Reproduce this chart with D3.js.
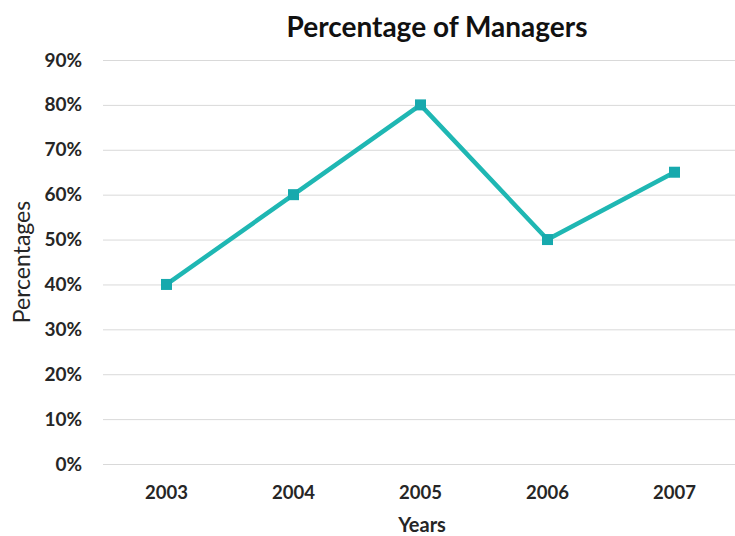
<!DOCTYPE html>
<html>
<head>
<meta charset="utf-8">
<script src="https://cdn.jsdelivr.net/npm/d3@7"></script>
<style>
  body { margin: 0; background: #fff; }
  svg { display: block; font-family: Lato, "Open Sans", sans-serif; }
</style>
</head>
<body>
<div id="chart"></div>
<script>
const years = ["2003", "2004", "2005", "2006", "2007"];
const managers = [40, 60, 80, 50, 65];
const yTicks = [0, 10, 20, 30, 40, 50, 60, 70, 80, 90];

const width = 735, height = 536;
const margin = {top: 60, right: -3, bottom: 72, left: 103};
const innerwidth = width - margin.left - margin.right;
const innerheight = height - margin.top - margin.bottom;

const svg = d3.select("#chart").append("svg")
    .attr("width", width)
    .attr("height", height);

const g = svg.append("g")
    .attr("transform", "translate(" + margin.left + "," + margin.top + ")");

const xScale = d3.scaleBand()
    .domain(years)
    .range([0, innerwidth]);

const yScale = d3.scaleLinear()
    .domain([0, 90])
    .range([innerheight, 0]);

// gridlines + y labels
const yAxis = g.append("g")
    .call(d3.axisLeft(yScale)
      .tickValues(yTicks)
      .tickSize(-innerwidth)
      .tickPadding(21)
      .tickFormat(d => d + "%"));
yAxis.select(".domain").remove();
yAxis.selectAll(".tick line").attr("stroke", "#d9d9d9").attr("stroke-width", 1);
yAxis.selectAll(".tick text")
    .attr("fill", "#262626")
    .attr("font-size", 19)
    .attr("font-weight", "bold")
    .attr("font-family", "Lato, sans-serif");

// x labels
const xAxis = g.append("g")
    .attr("transform", "translate(0," + innerheight + ")")
    .call(d3.axisBottom(xScale).tickSize(0).tickPadding(22));
xAxis.select(".domain").remove();
xAxis.selectAll(".tick text")
    .attr("fill", "#262626")
    .attr("font-size", 18.5)
    .attr("font-weight", "bold")
    .attr("font-family", "Lato, sans-serif");

const pts = years.map((y, i) => [xScale(y) + xScale.bandwidth() / 2, yScale(managers[i])]);

g.append("path")
    .datum(pts)
    .attr("fill", "none")
    .attr("stroke", "#1fb7b3")
    .attr("stroke-width", 4.5)
    .attr("stroke-linejoin", "round")
    .attr("d", d3.line());

g.selectAll(".dot")
    .data(pts)
    .enter().append("rect")
    .attr("class", "dot")
    .attr("x", d => d[0] - 5.5)
    .attr("y", d => d[1] - 5.5)
    .attr("width", 11)
    .attr("height", 11)
    .attr("fill", "#17a9ad");

// title
svg.append("text")
    .attr("x", 437)
    .attr("y", 37)
    .attr("text-anchor", "middle")
    .attr("font-size", 28)
    .attr("font-weight", "bold")
    .attr("fill", "#111")
    .text("Percentage of Managers");

// axis titles
svg.append("text")
    .attr("x", 422)
    .attr("y", 532)
    .attr("text-anchor", "middle")
    .attr("font-size", 20)
    .attr("font-weight", "bold")
    .attr("fill", "#262626")
    .text("Years");

svg.append("text")
    .attr("transform", "translate(30,262) rotate(-90)")
    .attr("text-anchor", "middle")
    .attr("font-size", 23)
    .attr("fill", "#262626")
    .text("Percentages");
</script>
</body>
</html>
